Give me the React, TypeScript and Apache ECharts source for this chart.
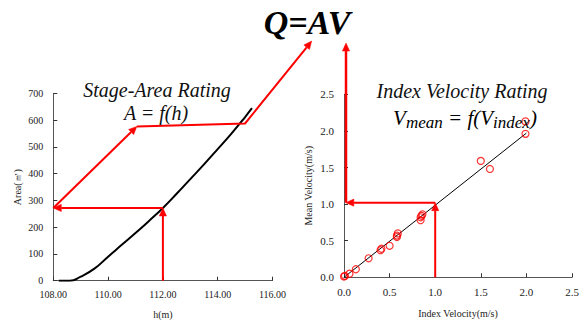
import React, { useEffect, useRef } from "react";
import * as echarts from "echarts";

// Stage-Area rating curve
const stageH = [108.2, 108.6, 109.0, 109.5, 110.0, 110.5, 111.0, 111.5, 112.0, 112.5, 113.0, 113.5, 114.0, 114.5, 115.0, 115.25];
const stageArea = [0, 0, 15, 45, 90, 134, 178, 224, 272, 325, 380, 435, 492, 550, 612, 645];
const hTicks = { min: 108, max: 116, interval: 2 };
const aTicks = { min: 0, max: 700, interval: 100 };

// Index velocity measurements
const indexV = [0, 0.01, 0.06, 0.13, 0.27, 0.4, 0.41, 0.5, 0.58, 0.59, 0.58, 0.84, 0.85, 0.86, 0.84, 1.5, 1.6, 1.99, 1.99];
const meanV = [0.01, 0.02, 0.05, 0.11, 0.26, 0.37, 0.39, 0.43, 0.55, 0.6, 0.57, 0.78, 0.84, 0.86, 0.82, 1.59, 1.48, 2.13, 1.96];
const fitX = [0, 2.0];
const fitY = [0, 1.97];
const vTicks = { min: 0, max: 2.5, interval: 0.5 };

// Annotation arrows (data coordinates of each grid)
const areaArrows: number[][][] = [
  [[112, 0], [112, 272]],
  [[112, 272], [108, 272]],
  [[108, 272], [111.05, 577]],
  [[111.05, 577], [115.0, 588], [117.43, 896]],
];
const velArrows: number[][][] = [
  [[1.0, 0], [1.0, 1.02]],
  [[1.0, 1.02], [0.02, 1.02]],
  [[0.022, 1.02], [0.022, 3.2]],
];

const SERIF = "Liberation Serif";
const RED = "#ff0000";

export default function App() {
  const ref = useRef<HTMLDivElement>(null);
  useEffect(() => {
    if (!ref.current) return;
    const chart = echarts.init(ref.current, undefined, { renderer: "svg" });
    const axisCommon = {
      axisLine: { show: true, onZero: false, lineStyle: { color: "#555", width: 1 } },
      axisTick: { show: true, inside: true, length: 4, lineStyle: { color: "#333" } },
      splitLine: { show: false },
      nameLocation: "middle" as const,
      nameTextStyle: { fontFamily: SERIF, fontSize: 10, color: "#222" },
    };
    chart.setOption({
      animation: false,
      backgroundColor: "#fff",
      textStyle: { fontFamily: SERIF },
      grid: [
        { left: 53.3, top: 93.5, width: 219.2, height: 187.2 },
        { left: 344, top: 94.3, width: 228, height: 183 },
      ],
      xAxis: [
        {
          ...axisCommon,
          gridIndex: 0,
          type: "value",
          ...hTicks,
          name: "h(m)",
          nameGap: 29,
          axisLabel: { fontFamily: SERIF, fontSize: 10, color: "#222", margin: 9, formatter: (v: number) => v.toFixed(2) },
        },
        {
          ...axisCommon,
          gridIndex: 1,
          type: "value",
          ...vTicks,
          name: "Index Velocity(m/s)",
          nameGap: 31,
          axisLabel: { fontFamily: SERIF, fontSize: 11, color: "#222", margin: 9, formatter: (v: number) => v.toFixed(1) },
        },
      ],
      yAxis: [
        {
          ...axisCommon,
          gridIndex: 0,
          type: "value",
          ...aTicks,
          name: "Area(㎡)",
          nameGap: 31,
          axisLabel: { fontFamily: SERIF, fontSize: 10, color: "#222", margin: 10 },
        },
        {
          ...axisCommon,
          gridIndex: 1,
          type: "value",
          ...vTicks,
          name: "Mean Velocity(m/s)",
          nameGap: 31,
          axisLabel: { fontFamily: SERIF, fontSize: 11, color: "#222", margin: 10, formatter: (v: number) => v.toFixed(1) },
        },
      ],
      series: [
        {
          type: "line",
          xAxisIndex: 0,
          yAxisIndex: 0,
          data: stageH.map((h, i) => [h, stageArea[i]]),
          smooth: true,
          showSymbol: false,
          lineStyle: { color: "#000", width: 2 },
          z: 2,
        },
        {
          type: "line",
          xAxisIndex: 1,
          yAxisIndex: 1,
          data: fitX.map((x, i) => [x, fitY[i]]),
          showSymbol: false,
          lineStyle: { color: "#000", width: 1 },
          z: 2,
        },
        {
          type: "scatter",
          xAxisIndex: 1,
          yAxisIndex: 1,
          data: indexV.map((x, i) => [x, meanV[i]]),
          symbol: "circle",
          symbolSize: 7,
          itemStyle: { color: "rgba(0,0,0,0)", borderColor: RED, borderWidth: 1.2 },
          z: 3,
        },
      ],
    });

    const arrowEls: any[] = [];
    const addArrow = (pts: number[][], gridIndex: number, width: number) => {
      const px = pts.map((p) => chart.convertToPixel({ gridIndex }, p) as number[]);
      const n = px.length;
      const tip = px[n - 1];
      const prev = px[n - 2];
      const dx = tip[0] - prev[0];
      const dy = tip[1] - prev[1];
      const len = Math.hypot(dx, dy) || 1;
      const ux = dx / len;
      const uy = dy / len;
      const L = 8;
      const W = 3.6;
      const base = [tip[0] - ux * L, tip[1] - uy * L];
      const linePts = px.slice(0, n - 1).concat([base]);
      arrowEls.push({
        type: "polyline",
        z: 100,
        shape: { points: linePts },
        style: { stroke: RED, lineWidth: width, fill: null },
      });
      arrowEls.push({
        type: "polygon",
        z: 100,
        shape: {
          points: [
            tip,
            [base[0] - uy * W, base[1] + ux * W],
            [base[0] + uy * W, base[1] - ux * W],
          ],
        },
        style: { fill: RED, stroke: RED, lineWidth: 0.5 },
      });
    };
    areaArrows.forEach((a) => addArrow(a, 0, 2));
    velArrows.forEach((a, i) => addArrow(a, 1, i === 2 ? 2.5 : 2));

    const titleStyle = { fontFamily: SERIF, fontStyle: "italic", fontSize: 20, fill: "#111" };
    chart.setOption({
      graphic: [
        ...arrowEls,
        {
          type: "text",
          z: 110,
          x: 307,
          y: 22,
          style: {
            text: "Q=AV",
            fontFamily: SERIF,
            fontStyle: "italic",
            fontWeight: "bold",
            fontSize: 34,
            fill: "#000",
            align: "center",
            verticalAlign: "middle",
          },
        },
        {
          type: "text",
          z: 110,
          x: 157,
          y: 90,
          style: { ...titleStyle, text: "Stage-Area Rating", align: "center", verticalAlign: "middle" },
        },
        {
          type: "text",
          z: 110,
          x: 156,
          y: 113,
          style: { ...titleStyle, text: "A = f(h)", align: "center", verticalAlign: "middle" },
        },
        {
          type: "text",
          z: 110,
          x: 462,
          y: 91,
          style: { ...titleStyle, text: "Index Velocity Rating", align: "center", verticalAlign: "middle" },
        },
        {
          type: "text",
          z: 110,
          x: 465,
          y: 104,
          style: {
            text: "{m|V}{s|mean}{m| = f(V}{s|index}{m|)}",
            align: "center",
            verticalAlign: "top",
            rich: {
              m: { fontFamily: SERIF, fontStyle: "italic", fontSize: 21, lineHeight: 26, verticalAlign: "middle", color: "#111" },
              s: { fontFamily: SERIF, fontStyle: "italic", fontSize: 17, lineHeight: 27, verticalAlign: "bottom", color: "#111" },
            },
          },
        },
      ],
    });
    return () => chart.dispose();
  }, []);
  return <div ref={ref} style={{ position: "absolute", left: 0, top: 0, width: 582, height: 325 }} />;
}
